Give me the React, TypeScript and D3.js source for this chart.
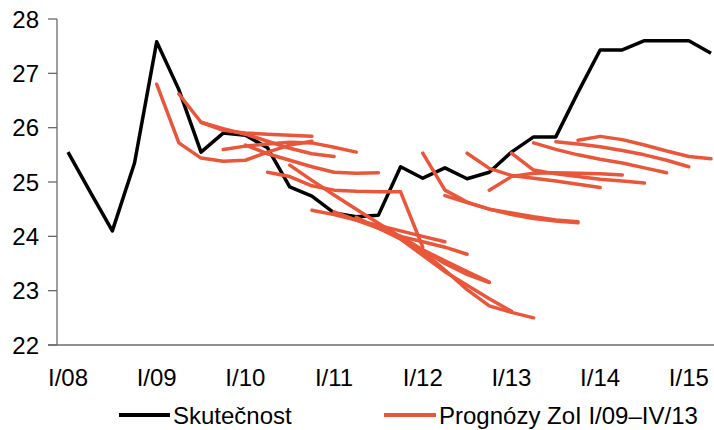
import React from 'react'
import * as d3 from 'd3'

// quarters on the x axis
const quarters = [
    'I/08', 'II/08', 'III/08', 'IV/08',
    'I/09', 'II/09', 'III/09', 'IV/09',
    'I/10', 'II/10', 'III/10', 'IV/10',
    'I/11', 'II/11', 'III/11', 'IV/11',
    'I/12', 'II/12', 'III/12', 'IV/12',
    'I/13', 'II/13', 'III/13', 'IV/13',
    'I/14', 'II/14', 'III/14', 'IV/14',
    'I/15', 'II/15',
]
const xTickLabels = ['I/08', 'I/09', 'I/10', 'I/11', 'I/12', 'I/13', 'I/14', 'I/15']
const yTicks = [22, 23, 24, 25, 26, 27, 28]

// Skutečnost
const actual = [
    25.55, 24.82, 24.1, 25.35, 27.58, 26.7, 25.55, 25.9, 25.86, 25.63,
    24.91, 24.74, 24.43, 24.36, 24.39, 25.28, 25.07, 25.26, 25.06, 25.18,
    25.55, 25.83, 25.83, 26.65, 27.43, 27.43, 27.6, 27.6, 27.6, 27.37,
]

// forecasts (first value = quarter of the report)
const fcI09 = [26.8, 25.72, 25.44, 25.38, 25.4, 25.55, 25.68, 25.75]
const fcII09 = [26.62, 26.1, 25.95, 25.9, 25.88, 25.86, 25.84]
const fcIII09 = [26.1, 25.98, 25.88, 25.75, 25.62, 25.52, 25.47]
const fcIV09 = [25.6, 25.66, 25.7, 25.73, 25.72, 25.64, 25.55]
const fcI10 = [25.68, 25.52, 25.4, 25.28, 25.18, 25.16, 25.17]
const fcII10 = [25.18, 25.1, 24.93, 24.85, 24.83, 24.82, 24.82, 23.8]
const fcIII10 = [25.31, 25.03, 24.76, 24.5, 24.24, 23.99, 23.72, 23.38, 23.02, 22.72, 22.6, 22.5]
const fcIV10 = [24.48, 24.4, 24.3, 24.2, 24.1, 24.0, 23.9]
const fcI11 = [24.45, 24.3, 24.15, 24.0, 23.9, 23.8, 23.67]
const fcII11 = [24.35, 24.15, 23.95, 23.75, 23.55, 23.35, 23.16]
const fcIII11 = [24.2, 23.95, 23.65, 23.35, 23.1, 22.85, 22.62]
const fcIV11 = [24.0, 23.75, 23.5, 23.3, 23.15]
const fcI12 = [25.53, 24.85, 24.63, 24.5, 24.43, 24.36, 24.3, 24.27]
const fcII12 = [24.75, 24.62, 24.5, 24.4, 24.33, 24.28, 24.25]
const fcIII12 = [25.53, 25.25, 25.12, 25.07, 25.02, 24.96, 24.9]
const fcIV12 = [24.85, 25.1, 25.16, 25.17, 25.16, 25.15, 25.13]
const fcI13 = [25.53, 25.22, 25.15, 25.1, 25.05, 25.02, 24.98]
const fcII13 = [25.72, 25.6, 25.5, 25.42, 25.35, 25.26, 25.17]
const fcIII13 = [25.74, 25.7, 25.65, 25.58, 25.5, 25.4, 25.28]
const fcIV13 = [25.77, 25.84, 25.78, 25.68, 25.57, 25.47, 25.43]

const forecasts = [
    { start: 'I/09', values: fcI09 },
    { start: 'II/09', values: fcII09 },
    { start: 'III/09', values: fcIII09 },
    { start: 'IV/09', values: fcIV09 },
    { start: 'I/10', values: fcI10 },
    { start: 'II/10', values: fcII10 },
    { start: 'III/10', values: fcIII10 },
    { start: 'IV/10', values: fcIV10 },
    { start: 'I/11', values: fcI11 },
    { start: 'II/11', values: fcII11 },
    { start: 'III/11', values: fcIII11 },
    { start: 'IV/11', values: fcIV11 },
    { start: 'I/12', values: fcI12 },
    { start: 'II/12', values: fcII12 },
    { start: 'III/12', values: fcIII12 },
    { start: 'IV/12', values: fcIV12 },
    { start: 'I/13', values: fcI13 },
    { start: 'II/13', values: fcII13 },
    { start: 'III/13', values: fcIII13 },
    { start: 'IV/13', values: fcIV13 },
]

const W = 714
const H = 430
const BLACK = '#000000'
const ORANGE = '#E9563A'
const AXIS = '#6a6a6a'
const FONT = "'Liberation Sans', Arial, sans-serif"

const App: React.FC = () => {
    const x = d3.scalePoint<string>().domain(quarters).range([68, 711])
    const y = d3.scaleLinear().domain([22, 28]).range([345, 19])

    const actualLine = d3
        .line<number>()
        .x((_, i) => x(quarters[i]) as number)
        .y((d) => y(d))

    const fcLine = (start: string) => {
        const s = quarters.indexOf(start)
        return d3
            .line<number>()
            .x((_, i) => x(quarters[s + i]) as number)
            .y((d) => y(d))
    }

    return (
        <svg
            width={W}
            height={H}
            style={{ position: 'absolute', left: 0, top: 0, background: '#fff' }}
            fontFamily={FONT}
        >
            {/* y axis */}
            <line x1={57} y1={y(28)} x2={57} y2={y(22)} stroke={AXIS} strokeWidth={1.3} />
            {yTicks.map((t) => (
                <g key={t}>
                    <line x1={48} x2={57} y1={y(t)} y2={y(t)} stroke={AXIS} strokeWidth={1.3} />
                    <text
                        x={39}
                        y={y(t)}
                        textAnchor="end"
                        dominantBaseline="central"
                        fontSize={24}
                        fill="#000"
                    >
                        {t}
                    </text>
                </g>
            ))}

            {/* x axis */}
            <line x1={48} y1={y(22)} x2={W} y2={y(22)} stroke={AXIS} strokeWidth={1.3} />
            {xTickLabels.map((q) => (
                <text
                    key={q}
                    x={x(q)}
                    y={377}
                    textAnchor="middle"
                    dominantBaseline="central"
                    fontSize={24}
                    fill="#000"
                >
                    {q}
                </text>
            ))}

            {/* actual */}
            <path
                d={actualLine(actual) || ''}
                fill="none"
                stroke={BLACK}
                strokeWidth={3.5}
                strokeLinejoin="round"
            />

            {/* forecasts */}
            {forecasts.map((f) => (
                <path
                    key={f.start}
                    d={fcLine(f.start)(f.values) || ''}
                    fill="none"
                    stroke={ORANGE}
                    strokeWidth={3.5}
                    strokeLinejoin="round"
                    strokeLinecap="round"
                />
            ))}

            {/* legend */}
            <line x1={119} x2={170} y1={415} y2={415} stroke={BLACK} strokeWidth={4} />
            <text x={173} y={415} dominantBaseline="central" fontSize={24} fill="#000">
                Skutečnost
            </text>
            <line x1={384} x2={436} y1={415} y2={415} stroke={ORANGE} strokeWidth={4} />
            <text x={439} y={415} dominantBaseline="central" fontSize={24} fill="#000">
                Prognózy ZoI I/09–IV/13
            </text>
        </svg>
    )
}

export default App
